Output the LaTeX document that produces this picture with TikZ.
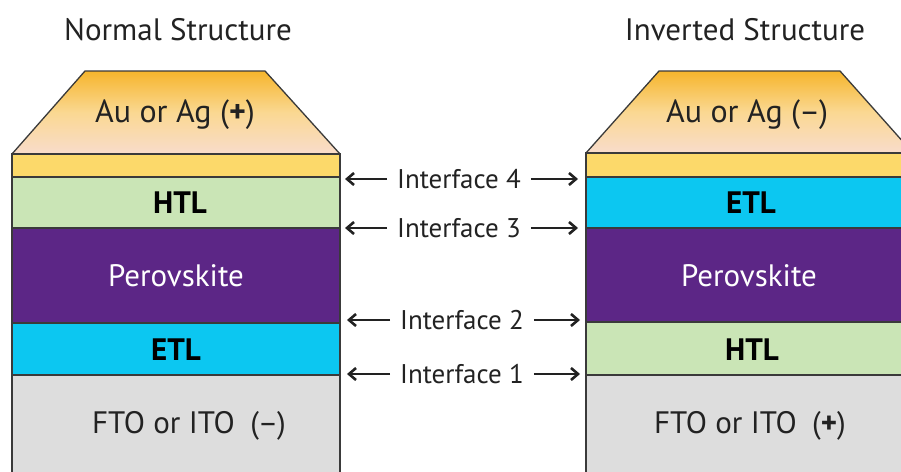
\documentclass[tikz,border=0pt]{standalone}
\usepackage{fontspec}
\setmainfont{PT Sans}
\usetikzlibrary{arrows.meta}
\definecolor{edge}{HTML}{3A3A3A}
\definecolor{augoldtop}{HTML}{F6B52C}
\definecolor{augoldmid}{HTML}{FAD892}
\definecolor{aupeach}{HTML}{F9DCCB}
\definecolor{goldfilm}{HTML}{FCD96A}
\definecolor{htlgreen}{HTML}{CAE5B6}
\definecolor{perov}{HTML}{5C2686}
\definecolor{etlblue}{HTML}{0CC7F1}
\definecolor{tco}{HTML}{DDDDDD}
\definecolor{ink}{HTML}{222222}
\begin{document}
\begin{tikzpicture}[x=1pt,y=-1pt,
  film/.style={draw=edge, line width=1.3pt},
  lbl/.style={font=\fontsize{31}{36}\selectfont, text=ink, inner sep=0pt},
  boldlbl/.style={font=\fontsize{31}{36}\selectfont\bfseries, text=black, inner sep=0pt},
  ttl/.style={font=\fontsize{31}{36}\selectfont, text=ink, inner sep=0pt},
  iface/.style={font=\fontsize{27}{32}\selectfont, text=ink, inner xsep=10pt, inner ysep=0pt},
  arr/.style={-{Straight Barb[length=7pt,width=12pt]}, line width=2.6pt, ink}]
\useasboundingbox (0,0) rectangle (901,471);
\clip (0,0) rectangle (901,471);

% ---------- normal structure ----------
\shade[top color=augoldtop, bottom color=aupeach, middle color=augoldmid]
  (12,154) -- (85,71) -- (265,71) -- (340,154) -- cycle;
\draw[film] (12,154) -- (85,71) -- (265,71) -- (340,154);
\draw[film, fill=goldfilm] (12,154) rectangle (340,177);
\draw[film, fill=htlgreen] (12,177) rectangle (340,228);
\draw[film, fill=perov]    (12,228) rectangle (340,323);
\draw[film, fill=etlblue]  (12,323) rectangle (340,375);
\draw[film, fill=tco]      (12,375) rectangle (340,490);

\node[ttl] (tN) at (178,30) {Normal Structure};
\node[lbl, font=\fontsize{32}{36}\selectfont] (nAu) at (175,115) {Au or Ag (\textbf{+})};
\node[boldlbl] (nHTL) at (180,203) {HTL};
\node[lbl, text=white] (nPer) at (176,276) {Perovskite};
\node[boldlbl] (nETL) at (176,350) {ETL};
\node[lbl] (nTCO) at (189,426) {FTO or ITO\enspace(–)};

% ---------- inverted structure ----------
\shade[top color=augoldtop, bottom color=aupeach, middle color=augoldmid]
  (586,153) -- (659,71) -- (840,71) -- (913,153) -- cycle;
\draw[film] (586,153) -- (659,71) -- (840,71) -- (913,153);
\draw[film, fill=goldfilm] (586,153) rectangle (913,177);
\draw[film, fill=etlblue]  (586,177) rectangle (913,228);
\draw[film, fill=perov]    (586,228) rectangle (913,322);
\draw[film, fill=htlgreen] (586,322) rectangle (913,375);
\draw[film, fill=tco]      (586,375) rectangle (913,490);

\node[ttl] (tI) at (745,30) {Inverted Structure};
\node[lbl, font=\fontsize{32}{36}\selectfont] (iAu) at (747,115) {Au or Ag (–)};
\node[boldlbl] (iETL) at (751,203) {ETL};
\node[lbl, text=white] (iPer) at (749,276) {Perovskite};
\node[boldlbl] (iHTL) at (752,350) {HTL};
\node[lbl] (iTCO) at (750,426) {FTO or ITO\enspace(\textbf{+})};

% ---------- interfaces ----------
\node[iface] (if4) at (459,179) {Interface 4};
\node[iface] (if3) at (459,228) {Interface 3};
\node[iface] (if2) at (462,320) {Interface 2};
\node[iface] (if1) at (462,374) {Interface 1};
\coordinate (l4) at (345,179); \coordinate (r4) at (578,179);
\coordinate (l3) at (345,228); \coordinate (r3) at (578,228);
\coordinate (l2) at (347,320); \coordinate (r2) at (580,320);
\coordinate (l1) at (347,374); \coordinate (r1) at (580,374);
\foreach \k in {1,2,3,4}{
  \draw[arr] (if\k.west) -- (l\k);
  \draw[arr] (if\k.east) -- (r\k);
}
\end{tikzpicture}
\end{document}
